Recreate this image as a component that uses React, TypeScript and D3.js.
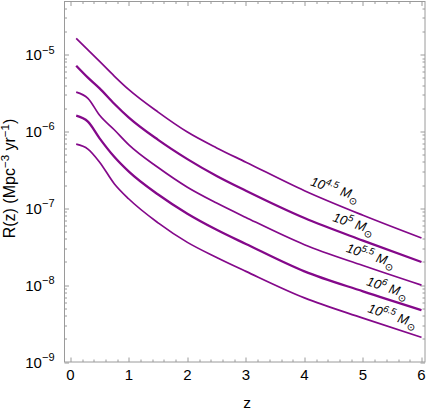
import { useEffect, useRef } from 'react';
import * as d3 from 'd3';

// merger rate R(z) for five black-hole masses
const redshift = [0.1, 0.3, 0.5, 0.75, 1, 1.5, 2, 2.5, 3, 4, 5, 6];
const rate45 = [1.62e-5, 1.15e-5, 8.13e-6, 5.25e-6, 3.49e-6, 1.78e-6, 9.8e-7, 6.1e-7, 3.98e-7, 1.69e-7, 8.1e-8, 4.1e-8];
const rate50 = [7.16e-6, 5.01e-6, 3.63e-6, 2.29e-6, 1.51e-6, 7.76e-7, 4.36e-7, 2.63e-7, 1.69e-7, 7.46e-8, 3.8e-8, 2.0e-8];
const rate55 = [3.24e-6, 2.69e-6, 1.62e-6, 1.05e-6, 6.68e-7, 3.39e-7, 1.88e-7, 1.17e-7, 7.6e-8, 3.36e-8, 1.8e-8, 1.0e-8];
const rate60 = [1.6e-6, 1.34e-6, 8.13e-7, 4.68e-7, 3.0e-7, 1.51e-7, 8.5e-8, 5.25e-8, 3.43e-8, 1.51e-8, 8.3e-9, 4.73e-9];
const rate65 = [6.82e-7, 5.89e-7, 3.98e-7, 2.09e-7, 1.32e-7, 6.46e-8, 3.6e-8, 2.29e-8, 1.51e-8, 6.82e-9, 3.72e-9, 2.09e-9];

const massExponents = ['4.5', '5', '5.5', '6', '6.5'];
const labelRedshift = [4.02, 4.4, 4.63, 4.98, 5.0];
const xTicks = [0, 1, 2, 3, 4, 5, 6];
const yTickExponents = [-9, -8, -7, -6, -5];

const series = [rate45, rate50, rate55, rate60, rate65];
const lineWidths = [1.7, 2.3, 1.7, 2.3, 1.7];

export default function App() {
  const ref = useRef<SVGSVGElement>(null);

  useEffect(() => {
    const width = 429;
    const height = 415;
    const margin = { top: 1.5, right: 4, bottom: 53, left: 64.5 };
    const innerWidth = width - margin.left - margin.right;
    const innerHeight = height - margin.top - margin.bottom;
    const font = '"Liberation Sans", Arial, sans-serif';
    const frameColor = '#9a9a9a';
    const purple = '#84088a';

    const svg = d3.select(ref.current);
    svg.selectAll('*').remove();
    const root = svg.append('g').attr('transform', `translate(${margin.left},${margin.top})`);

    const x = d3.scaleLinear().domain([-0.1, 6.06]).range([0, innerWidth]);
    const y = d3
      .scaleLog()
      .domain([1e-9, 10 ** -4.31])
      .range([innerHeight, 0]);

    // frame
    root
      .append('rect')
      .attr('width', innerWidth)
      .attr('height', innerHeight)
      .attr('fill', 'none')
      .attr('stroke', frameColor);

    // x ticks (bottom and top, pointing inward)
    const xMinor = d3.range(0, 31).map((i) => i / 5);
    root
      .selectAll('.xtick')
      .data(xMinor)
      .join('g')
      .attr('class', 'xtick')
      .each(function (v) {
        const g = d3.select(this);
        const len = Math.abs(v - Math.round(v)) < 1e-6 ? 4.5 : 2.5;
        const px = Math.round(x(v)) + 0.5;
        g.append('line').attr('x1', px).attr('x2', px).attr('y1', innerHeight).attr('y2', innerHeight - len);
        g.append('line').attr('x1', px).attr('x2', px).attr('y1', 0).attr('y2', len);
      })
      .selectAll('line')
      .attr('stroke', frameColor);

    // y ticks (left and right, pointing inward)
    const yMinor: { v: number; major: boolean }[] = [];
    for (let e = -9; e <= -5; e += 1) {
      for (let m = 1; m <= 9; m += 1) {
        const v = m * 10 ** e;
        if (v <= y.domain()[1]) yMinor.push({ v, major: m === 1 });
      }
    }
    root
      .selectAll('.ytick')
      .data(yMinor)
      .join('g')
      .attr('class', 'ytick')
      .each(function (d) {
        const g = d3.select(this);
        const len = d.major ? 4.5 : 2.5;
        const py = Math.round(y(d.v)) + 0.5;
        g.append('line').attr('x1', 0).attr('x2', len).attr('y1', py).attr('y2', py);
        g.append('line').attr('x1', innerWidth).attr('x2', innerWidth - len).attr('y1', py).attr('y2', py);
      })
      .selectAll('line')
      .attr('stroke', frameColor);

    // x tick labels
    root
      .selectAll('.xlabel')
      .data(xTicks)
      .join('text')
      .attr('class', 'xlabel')
      .attr('x', (v) => x(v))
      .attr('y', innerHeight + 17.5)
      .attr('text-anchor', 'middle')
      .attr('font-family', font)
      .attr('font-size', 15)
      .text((v) => String(v));

    // y tick labels
    const yLabels = root
      .selectAll('.ylabel')
      .data(yTickExponents)
      .join('text')
      .attr('class', 'ylabel')
      .attr('x', -10)
      .attr('y', (e) => y(10 ** e) + 5.5)
      .attr('text-anchor', 'end')
      .attr('font-family', font)
      .attr('font-size', 15);
    yLabels.append('tspan').text('10');
    yLabels
      .append('tspan')
      .attr('dy', -6.5)
      .attr('font-size', 11)
      .text((e) => `\u2212${Math.abs(e)}`);

    // axis titles
    root
      .append('text')
      .attr('x', x(3.02))
      .attr('y', innerHeight + 46)
      .attr('text-anchor', 'middle')
      .attr('font-family', font)
      .attr('font-size', 15.5)
      .text('z');

    const yTitle = root
      .append('text')
      .attr('transform', `translate(${-49.5},${177}) rotate(-90)`)
      .attr('text-anchor', 'middle')
      .attr('font-family', font)
      .attr('font-size', 16);
    yTitle.append('tspan').text('R(z) (Mpc');
    yTitle.append('tspan').attr('dy', -6).attr('font-size', 11.5).text('\u22123');
    yTitle.append('tspan').attr('dy', 6).text(' yr');
    yTitle.append('tspan').attr('dy', -6).attr('font-size', 11.5).text('\u22121');
    yTitle.append('tspan').attr('dy', 6).text(')');

    // curves
    const line = d3
      .line<number>()
      .x((_, i) => x(redshift[i]))
      .y((v) => y(v))
      .curve(d3.curveMonotoneX);

    root
      .selectAll('.curve')
      .data(series)
      .join('path')
      .attr('class', 'curve')
      .attr('d', (d) => line(d))
      .attr('fill', 'none')
      .attr('stroke', purple)
      .attr('stroke-width', (_, i) => lineWidths[i]);

    // mass labels placed just above each curve
    const logAt = (values: number[], z: number) => {
      const i = Math.max(1, d3.bisectLeft(redshift, z));
      const t = (z - redshift[i - 1]) / (redshift[i] - redshift[i - 1]);
      return 10 ** (Math.log10(values[i - 1]) * (1 - t) + Math.log10(values[i]) * t);
    };

    const labels = root
      .selectAll('.mass')
      .data(massExponents)
      .join('g')
      .attr('class', 'mass')
      .attr('transform', (_, i) => {
        const z = labelRedshift[i];
        return `translate(${x(z)},${y(logAt(series[i], z))}) rotate(18)`;
      })
      .append('text')
      .attr('x', 2)
      .attr('y', -7)
      .attr('font-family', font)
      .attr('font-style', 'italic')
      .attr('font-size', 13);
    labels.append('tspan').text('10');
    labels.append('tspan').attr('dy', -5.5).attr('font-size', 9.5).text((d) => d);
    labels.append('tspan').attr('dy', 5.5).text(' M');
    labels.append('tspan').attr('dy', 4.5).attr('font-size', 10).attr('font-style', 'normal').text('\u2299');
  }, []);

  return (
    <svg
      ref={ref}
      width={429}
      height={415}
      style={{ position: 'absolute', left: 0, top: 0, background: '#fff' }}
    />
  );
}
